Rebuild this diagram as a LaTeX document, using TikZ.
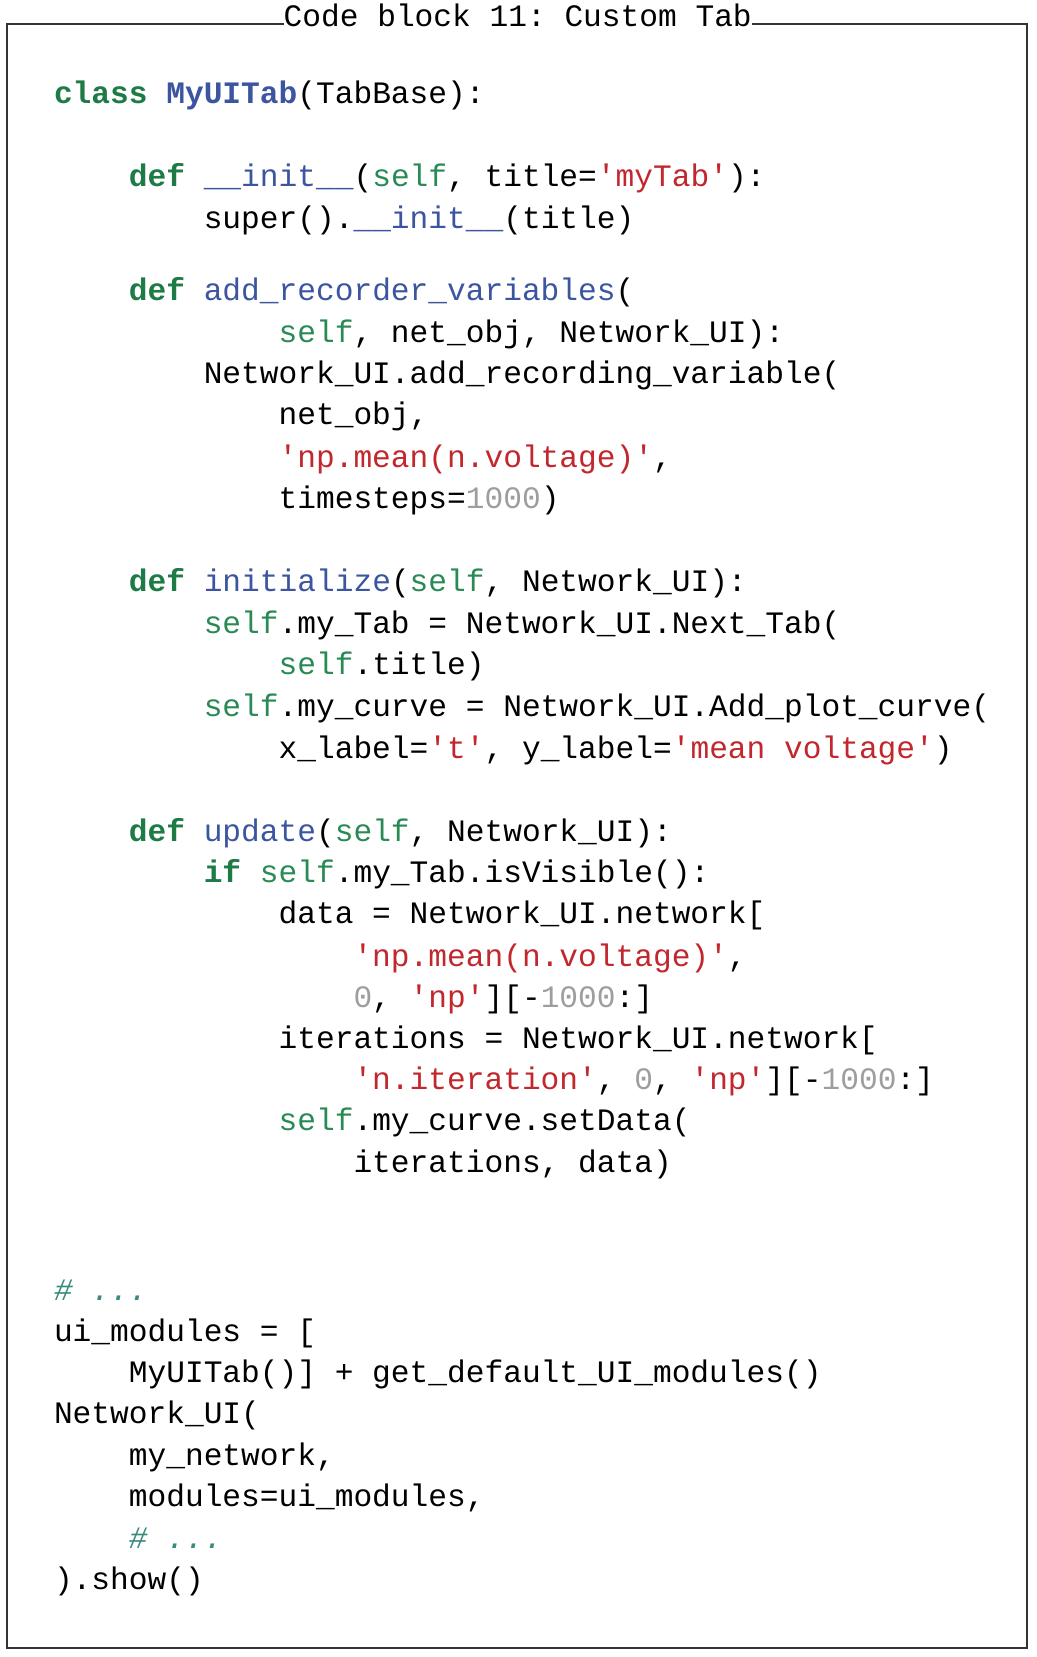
\documentclass[tikz,border=0pt]{standalone}
\usepackage{fontspec}
\setmonofont{Liberation Mono}
\definecolor{kwgreen}{HTML}{1E7B45}
\definecolor{selfgreen}{HTML}{2A8A55}
\definecolor{fnblue}{HTML}{3C55A0}
\definecolor{strred}{HTML}{C1272D}
\definecolor{numgray}{HTML}{9E9E9E}
\definecolor{cmteal}{HTML}{3A8A80}
\definecolor{framegray}{HTML}{333333}
\newcommand{\kw}[1]{\textcolor{kwgreen}{\bfseries #1}}
\newcommand{\fnb}[1]{\textcolor{fnblue}{\bfseries #1}}
\newcommand{\fn}[1]{\textcolor{fnblue}{#1}}
\newcommand{\slf}[1]{\textcolor{selfgreen}{#1}}
\newcommand{\st}[1]{\textcolor{strred}{#1}}
\newcommand{\nm}[1]{\textcolor{numgray}{#1}}
\newcommand{\cm}[1]{\textcolor{cmteal}{\itshape #1}}
\newcommand{\codefont}{\ttfamily\fontsize{31.2}{36}\selectfont}
\begin{document}
\begin{tikzpicture}[x=1pt,y=-1pt,
  codeline/.style={anchor=mid west, inner sep=0pt, outer sep=0pt, font=\codefont, text=black, yshift=-8.3pt},
  frameline/.style={draw=framegray, line width=2pt}]
\useasboundingbox (0,0) rectangle (1036,1657);
\fill[white] (0,0) rectangle (1036,1657);
% title
\node[anchor=base west, inner sep=0pt, font=\codefont, text=black] (title) at (283.5,26) {Code block 11: Custom Tab};
\coordinate (tl) at (7,24);
\coordinate (tr) at (1027,24);
\coordinate (bl) at (7,1648);
\coordinate (br) at (1027,1648);
\coordinate (tgl) at (title.west |- tl);
\coordinate (tgr) at (title.east |- tl);
\draw[frameline] (tgl) -- (tl) -- (bl) -- (br) -- (tr) -- (tgr);
% code lines
\def\cx#1{54+#1*18.72}
\node[codeline] (l0)  at ({\cx{0}},93.0)   {\kw{class} \fnb{MyUITab}(TabBase):};
\node[codeline] (l1)  at ({\cx{4}},176.5)  {\kw{def} \fn{\_\_init\_\_}(\slf{self}, title=\st{'myTab'}):};
\node[codeline] (l2)  at ({\cx{8}},217.8)  {super().\fn{\_\_init\_\_}(title)};
\node[codeline] (l3)  at ({\cx{4}},289.6)  {\kw{def} \fn{add\_recorder\_variables}(};
\node[codeline] (l4)  at ({\cx{12}},331.9) {\slf{self}, net\_obj, Network\_UI):};
\node[codeline] (l5)  at ({\cx{8}},373.2)  {Network\_UI.add\_recording\_variable(};
\node[codeline] (l6)  at ({\cx{12}},414.4) {net\_obj,};
\node[codeline] (l7)  at ({\cx{12}},456.7) {\st{'np.mean(n.voltage)'},};
\node[codeline] (l8)  at ({\cx{12}},497.9) {timesteps=\nm{1000})};
\node[codeline] (l9)  at ({\cx{4}},581.4)  {\kw{def} \fn{initialize}(\slf{self}, Network\_UI):};
\node[codeline] (l10) at ({\cx{8}},622.6)  {\slf{self}.my\_Tab = Network\_UI.Next\_Tab(};
\node[codeline] (l11) at ({\cx{12}},663.9) {\slf{self}.title)};
\node[codeline] (l12) at ({\cx{8}},706.1)  {\slf{self}.my\_curve = Network\_UI.Add\_plot\_curve(};
\node[codeline] (l13) at ({\cx{12}},748.4) {x\_label=\st{'t'}, y\_label=\st{'mean voltage'})};
\node[codeline] (l14) at ({\cx{4}},830.9)  {\kw{def} \fn{update}(\slf{self}, Network\_UI):};
\node[codeline] (l15) at ({\cx{8}},872.1)  {\kw{if} \slf{self}.my\_Tab.isVisible():};
\node[codeline] (l16) at ({\cx{12}},913.3) {data = Network\_UI.network[};
\node[codeline] (l17) at ({\cx{16}},955.6) {\st{'np.mean(n.voltage)'},};
\node[codeline] (l18) at ({\cx{16}},996.8) {\nm{0}, \st{'np'}][-\nm{1000}:]};
\node[codeline] (l19) at ({\cx{12}},1038.1) {iterations = Network\_UI.network[};
\node[codeline] (l20) at ({\cx{16}},1079.3) {\st{'n.iteration'}, \nm{0}, \st{'np'}][-\nm{1000}:]};
\node[codeline] (l21) at ({\cx{12}},1120.5) {\slf{self}.my\_curve.setData(};
\node[codeline] (l22) at ({\cx{16}},1161.8) {iterations, data)};
\node[codeline] (l23) at ({\cx{0}},1289.7)  {\cm{\# ...}};
\node[codeline] (l24) at ({\cx{0}},1330.9)  {ui\_modules = [};
\node[codeline] (l25) at ({\cx{4}},1372.1)  {MyUITab()] + get\_default\_UI\_modules()};
\node[codeline] (l26) at ({\cx{0}},1413.3)  {Network\_UI(};
\node[codeline] (l27) at ({\cx{4}},1454.6)  {my\_network,};
\node[codeline] (l28) at ({\cx{4}},1495.8)  {modules=ui\_modules,};
\node[codeline] (l29) at ({\cx{4}},1538.1)  {\cm{\# ...}};
\node[codeline] (l30) at ({\cx{0}},1579.3)  {).show()};
\end{tikzpicture}
\end{document}
